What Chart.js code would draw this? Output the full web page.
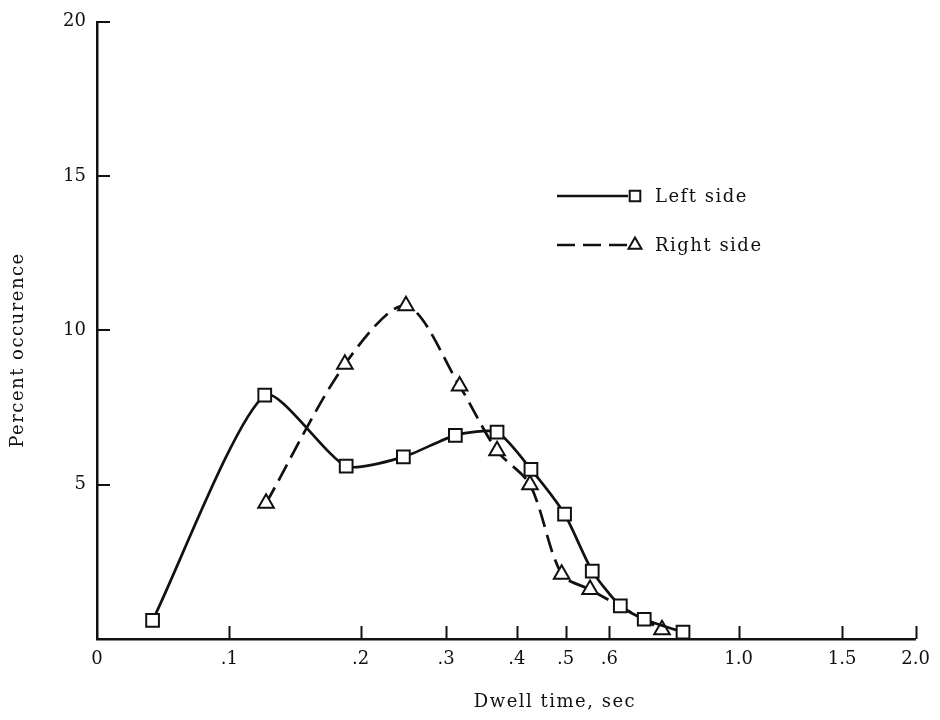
<!DOCTYPE html>
<html>
<head>
<meta charset="utf-8">
<script src="https://cdn.jsdelivr.net/npm/chart.js@4.4.0/dist/chart.umd.min.js"></script>
<style>
    html, body { margin: 0; padding: 0; background: #fff; }
</style>
</head>
<body>
<canvas id="dwell-chart" width="940" height="720"></canvas>
<script>
// Dwell time axis (sec) - printed scale is not linear
const xTickValues = [0, 0.1, 0.2, 0.3, 0.4, 0.5, 0.6, 1.0, 1.5, 2.0];
const xTickLabels = ['0', '.1', '.2', '.3', '.4', '.5', '.6', '1.0', '1.5', '2.0'];
// share of the axis length where each tick sits
const xTickSpacing = [0, 0.1616, 0.3220, 0.4265, 0.5128, 0.5723, 0.6258, 0.7837, 0.9101, 1];

const yTickValues = [0, 5, 10, 15, 20];

// Left side (squares)
const leftDwell   = [0.042, 0.127, 0.189, 0.250, 0.313, 0.372, 0.429, 0.498, 0.561, 0.634, 0.708, 0.828];
const leftPercent = [0.6, 7.9, 5.6, 5.9, 6.6, 6.7, 5.5, 4.05, 2.2, 1.07, 0.64, 0.22];

// Right side (triangles)
const rightDwell   = [0.128, 0.188, 0.253, 0.319, 0.372, 0.427, 0.492, 0.556, 0.763];
const rightPercent = [4.4, 8.9, 10.8, 8.2, 6.1, 5.0, 2.1, 1.6, 0.3];

const seriesLabels = ['Left side', 'Right side'];
const xTitle = 'Dwell time, sec';
const yTitle = 'Percent occurence';

const ink = '#111';
const serif = '"DejaVu Serif", "Liberation Serif", serif';

// piecewise scale following the printed tick spacing
class DwellScale extends Chart.LinearScale {
    determineDataLimits() {
        this.min = xTickValues[0];
        this.max = xTickValues[xTickValues.length - 1];
    }
    buildTicks() {
        return xTickValues.map(v => ({ value: v }));
    }
    getDecimalForValue(value) {
        const n = xTickValues.length;
        if (value <= xTickValues[0]) return 0;
        for (let i = 1; i < n; i++) {
            if (value <= xTickValues[i]) {
                const f = (value - xTickValues[i - 1]) / (xTickValues[i] - xTickValues[i - 1]);
                return xTickSpacing[i - 1] + f * (xTickSpacing[i] - xTickSpacing[i - 1]);
            }
        }
        return 1;
    }
    getPixelForValue(value) {
        if (value === null || value === undefined) return NaN;
        return this.getPixelForDecimal(this.getDecimalForValue(value));
    }
    getValueForPixel(pixel) {
        const d = this.getDecimalForPixel(pixel);
        for (let i = 1; i < xTickSpacing.length; i++) {
            if (d <= xTickSpacing[i]) {
                const f = (d - xTickSpacing[i - 1]) / (xTickSpacing[i] - xTickSpacing[i - 1]);
                return xTickValues[i - 1] + f * (xTickValues[i] - xTickValues[i - 1]);
            }
        }
        return xTickValues[xTickValues.length - 1];
    }
}
DwellScale.id = 'dwell';
DwellScale.defaults = Chart.LinearScale.defaults;
Chart.register(DwellScale);

// tick marks pointing into the plot
const inwardTicks = {
    id: 'inwardTicks',
    beforeDatasetsDraw(chart) {
        const { ctx, chartArea, scales } = chart;
        ctx.save();
        ctx.strokeStyle = ink;
        ctx.lineWidth = 2;
        ctx.beginPath();
        xTickValues.slice(1).forEach(v => {
            const px = Math.round(scales.x.getPixelForValue(v)) + 0.5;
            ctx.moveTo(px, chartArea.bottom);
            ctx.lineTo(px, chartArea.bottom - 13);
        });
        yTickValues.slice(1).forEach(v => {
            const py = Math.round(scales.y.getPixelForValue(v));
            ctx.moveTo(chartArea.left, py);
            ctx.lineTo(chartArea.left + 13, py);
        });
        ctx.stroke();
        ctx.restore();
    }
};

// axis titles (x title sits right of centre in the original)
const axisTitles = {
    id: 'axisTitles',
    afterDraw(chart) {
        const ctx = chart.ctx;
        ctx.save();
        ctx.fillStyle = ink;
        ctx.font = '18px ' + serif;
        ctx.letterSpacing = '1.5px';
        ctx.textAlign = 'center';
        ctx.textBaseline = 'middle';
        ctx.fillText(xTitle, 555, 702);
        ctx.translate(18, 350);
        ctx.rotate(-Math.PI / 2);
        ctx.fillText(yTitle, 0, 0);
        ctx.restore();
    }
};

// legend: line sample with marker at its end
const sideLegend = {
    id: 'sideLegend',
    afterDraw(chart) {
        const ctx = chart.ctx;
        chart.data.datasets.forEach((ds, i) => {
            const yy = 196 + i * 49;
            ctx.save();
            ctx.strokeStyle = ink;
            ctx.lineWidth = 2.5;
            ctx.setLineDash(ds.borderDash || []);
            ctx.beginPath();
            ctx.moveTo(557, yy);
            ctx.lineTo(628, yy);
            ctx.stroke();
            ctx.setLineDash([]);
            ctx.fillStyle = '#fff';
            ctx.lineWidth = 2;
            Chart.helpers.drawPoint(ctx, { pointStyle: ds.pointStyle, radius: 7.5, borderWidth: 2, rotation: 0 }, 635, yy);
            ctx.fillStyle = ink;
            ctx.font = '18px ' + serif;
            ctx.letterSpacing = '1.5px';
            ctx.textAlign = 'left';
            ctx.textBaseline = 'middle';
            ctx.fillText(ds.label, 655, yy + 1);
            ctx.restore();
        });
    }
};

const ctx = document.getElementById('dwell-chart').getContext('2d');

new Chart(ctx, {
    type: 'line',
    data: {
        datasets: [{
            label: seriesLabels[0],
            data: leftDwell.map((x, i) => ({ x: x, y: leftPercent[i] })),
            borderColor: ink,
            borderWidth: 2.7,
            tension: 0.22,
            pointStyle: 'rect',
            pointRadius: 9,
            pointBorderWidth: 2,
            pointBorderColor: ink,
            pointBackgroundColor: '#fff'
        }, {
            label: seriesLabels[1],
            data: rightDwell.map((x, i) => ({ x: x, y: rightPercent[i] })),
            borderColor: ink,
            borderWidth: 2.7,
            borderDash: [18, 8],
            tension: 0.3,
            pointStyle: 'triangle',
            pointRadius: 9,
            pointBorderWidth: 2,
            pointBorderColor: ink,
            pointBackgroundColor: '#fff'
        }]
    },
    options: {
        responsive: false,
        devicePixelRatio: 1,
        animation: false,
        layout: { padding: { top: 16, right: 20, bottom: 0, left: 0 } },
        plugins: {
            legend: { display: false },
            tooltip: { enabled: false }
        },
        scales: {
            x: {
                type: 'dwell',
                position: 'bottom',
                grid: { display: false, drawTicks: false },
                border: { display: true, color: ink, width: 2.5 },
                ticks: {
                    autoSkip: false,
                    maxRotation: 0,
                    padding: 10,
                    color: ink,
                    font: { family: serif, size: 18 },
                    callback: (v, i) => xTickLabels[i]
                },
                afterFit: s => { s.height = 81; }
            },
            y: {
                type: 'linear',
                min: 0,
                max: 20,
                grid: { display: false, drawTicks: false },
                border: { display: true, color: ink, width: 2.5 },
                ticks: {
                    stepSize: 5,
                    padding: 11,
                    color: ink,
                    font: { family: serif, size: 18 },
                    callback: v => (v === 0 ? '' : v)
                },
                afterFit: s => { s.width = 97; }
            }
        }
    },
    plugins: [inwardTicks, axisTitles, sideLegend]
});
</script>
</body>
</html>
